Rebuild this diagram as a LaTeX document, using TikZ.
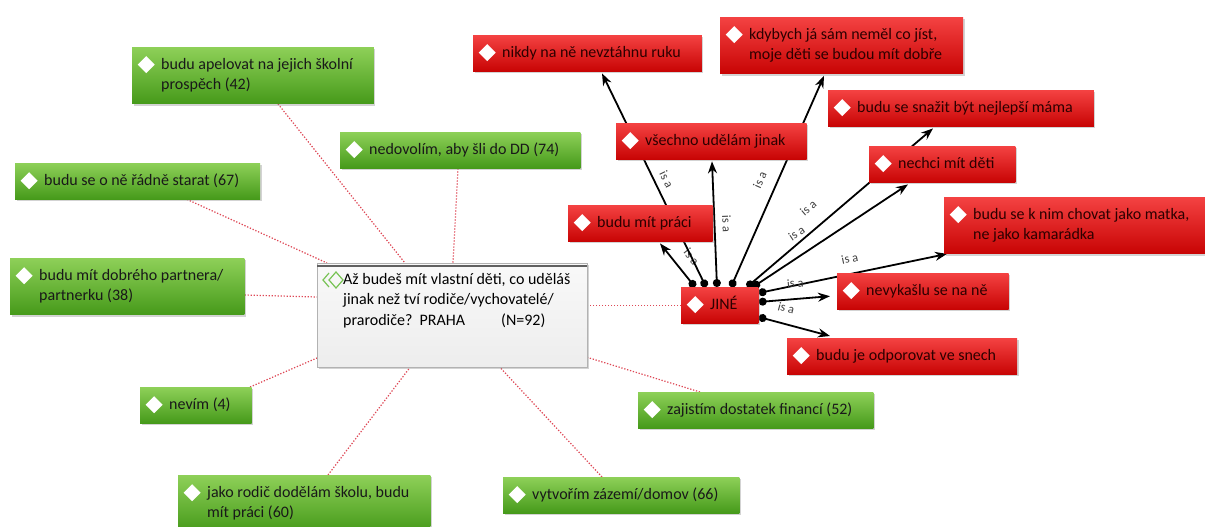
\documentclass[tikz,border=0pt]{standalone}
\usepackage{fontspec}
\setmainfont{Carlito}
\usetikzlibrary{arrows.meta, shadows, positioning}

\pgfdeclarelayer{bg}
\pgfsetlayers{bg,main}

\definecolor{grntop}{RGB}{142,208,88}
\definecolor{grnbot}{RGB}{70,154,26}
\definecolor{redtop}{RGB}{244,66,66}
\definecolor{redbot}{RGB}{200,4,4}
\definecolor{redtxt}{RGB}{45,0,0}
\definecolor{linkred}{RGB}{222,72,86}
\definecolor{icongrn}{RGB}{120,195,85}

% indented lines inside a card
\newcommand{\ml}[1]{\begin{tabular}{@{\hspace{8pt}}l@{}}#1\end{tabular}}

\tikzset{
  card/.style={rectangle, anchor=north west, inner xsep=21pt, inner ysep=7.75pt,
    font=\fontsize{16}{20.5}\selectfont,
    drop shadow={opacity=0.35, shadow xshift=1.5pt, shadow yshift=-2pt},
    path picture={\fill[white] ([xshift=14pt,yshift=-9pt]path picture bounding box.north west)
      -- ++(8.5pt,-8.5pt) -- ++(-8.5pt,-8.5pt) -- ++(-8.5pt,8.5pt) -- cycle;}},
  grn/.style={card, top color=grntop, bottom color=grnbot, text=black!90},
  rd/.style={card, top color=redtop, bottom color=redbot, text=redtxt},
  link/.style={linkred, line width=1.2pt, dash pattern=on 1.3pt off 1.7pt},
  isarrow/.style={black, line width=1.8pt, {Circle[length=8pt]}-{Stealth[length=12pt, width=9pt]}},
  isa/.style={sloped, font=\fontsize{12.5}{12.5}\selectfont, text=black!75, inner sep=0pt},
}

\begin{document}
\begin{tikzpicture}[x=1pt,y=-1pt]
\useasboundingbox (0,0) rectangle (1205,527);

% question
\node[anchor=north west, rectangle, inner xsep=2pt, inner ysep=10pt, top color=gray!5, bottom color=gray!14,
  draw=gray!60, minimum width=270pt, minimum height=104pt, font=\fontsize{16}{20.5}\selectfont,
  drop shadow={opacity=0.35, shadow xshift=1.5pt, shadow yshift=-2pt}] (central) at (317,263)
  {\hspace*{24pt}\parbox[t][84pt][t]{242pt}{Až budeš mít vlastní děti, co uděláš\\
   jinak než tví rodiče/vychovatelé/\\
   prarodiče?\ \ PRAHA\hspace{36pt}(N=92)}};
\draw[gray!75!black, line width=1.3pt] ([yshift=-3pt]central.north west) -- ([yshift=-3pt]central.north east);
\draw[icongrn, line width=1.2pt] ([xshift=12pt,yshift=-10pt]central.north west) -- ++(-6pt,-7pt) -- ++(6pt,-7pt);
\draw[icongrn, line width=1.2pt] ([xshift=19pt,yshift=-9pt]central.north west) -- ++(7pt,-8pt) -- ++(-7pt,-8pt) -- ++(-7pt,8pt) -- cycle;

% answers
\node[grn] (apel) at (132,47) {\ml{budu apelovat na jejich školní\\prospěch (42)}};
\node[grn] (nedov) at (340,132) {\ml{nedovolím, aby šli do DD (74)}};
\node[grn] (starat) at (15,163) {\ml{budu se o ně řádně starat (67)}};
\node[grn] (partner) at (10,258) {\ml{budu mít dobrého partnera/\\partnerku (38)}};
\node[grn] (nevim) at (140,387) {\ml{nevím (4)}};
\node[grn] (jako) at (178,475) {\ml{jako rodič dodělám školu, budu\\mít práci (60)}};
\node[grn] (vytvor) at (503,477) {\ml{vytvořím zázemí/domov (66)}};
\node[grn] (zajist) at (638,392) {\ml{zajistím dostatek financí (52)}};

% other
\node[rd] (jine) at (681,287) {\ml{JINÉ}};
\node[rd] (prace) at (568,205) {\ml{budu mít práci}};
\node[rd] (vsechno) at (616,123) {\ml{všechno udělám jinak}};
\node[rd] (nikdy) at (473,35) {\ml{nikdy na ně nevztáhnu ruku}};
\node[rd] (kdybych) at (720,17) {\ml{kdybych já sám neměl co jíst,\\moje děti se budou mít dobře}};
\node[rd] (mama) at (828,90) {\ml{budu se snažit být nejlepší máma}};
\node[rd] (nechci) at (869,146) {\ml{nechci mít děti}};
\node[rd] (matka) at (944,197) {\ml{budu se k nim chovat jako matka,\\ne jako kamarádka}};
\node[rd] (nevyk) at (837,273) {\ml{nevykašlu se na ně}};
\node[rd] (odpor) at (787,338) {\ml{budu je odporovat ve snech}};

\begin{pgfonlayer}{bg}
\draw[link] ([xshift=146pt]apel.south west) -- ([xshift=88pt]central.north west);
\draw[link] ([xshift=172pt]starat.south west) -- ([xshift=10pt]central.north west);
\draw[link] ([xshift=118pt]nedov.south west) -- ([xshift=136pt]central.north west);
\draw[link] ([yshift=-37pt]partner.north east) -- ([yshift=-34pt]central.north west);
\draw[link] ([xshift=110pt]nevim.north west) -- ([yshift=-95pt]central.north west);
\draw[link] ([xshift=150pt]jako.north west) -- ([xshift=93pt]central.south west);
\draw[link] ([xshift=99pt]vytvor.north west) -- ([xshift=183pt]central.south west);
\draw[link] ([xshift=62pt]zajist.north west) -- ([yshift=10pt]central.south east);
\draw[link] (jine.west) -- (jine.west -| central.east);

\draw[isarrow] ([xshift=14pt]jine.north west) -- node[isa, pos=0.46, above=11pt] {is a} ([xshift=92pt,yshift=-2pt]prace.south west);
\draw[isarrow] ([xshift=25pt]jine.north west) -- node[isa, pos=0.48, above=6.5pt] {is a} ([xshift=129pt,yshift=-2pt]nikdy.south west);
\draw[isarrow] ([xshift=36pt]jine.north west) -- node[isa, pos=0.5, above=7pt] {is a} ([xshift=96pt,yshift=-2pt]vsechno.south west);
\draw[isarrow] ([xshift=50pt]jine.north west) -- node[isa, pos=0.475, above=11.5pt] {is a} ([xshift=104pt,yshift=-2pt]kdybych.south west);
\draw[isarrow] ([xshift=66pt]jine.north west) -- node[isa, pos=0.4, above=15pt] {is a} ([xshift=105pt,yshift=-2pt]mama.south west);
\draw[isarrow] ([xshift=72pt]jine.north west) -- node[isa, pos=0.355, above=15.5pt] {is a} ([xshift=39pt,yshift=-2pt]nechci.south west);
\draw[isarrow] ([yshift=-6pt]jine.north east) -- node[isa, pos=0.5, above=10pt] {is a} ([xshift=3pt]matka.south west);
\draw[isarrow] ([yshift=-15pt]jine.north east) -- node[isa, pos=0.53, above=10.5pt] {is a} ([xshift=-7pt,yshift=-5pt]nevyk.west);
\draw[isarrow] ([yshift=-30pt]jine.north east) -- node[isa, pos=0.33, above=10.5pt] {is a} ([xshift=43pt,yshift=2pt]odpor.north west);
\end{pgfonlayer}
\end{tikzpicture}
\end{document}
